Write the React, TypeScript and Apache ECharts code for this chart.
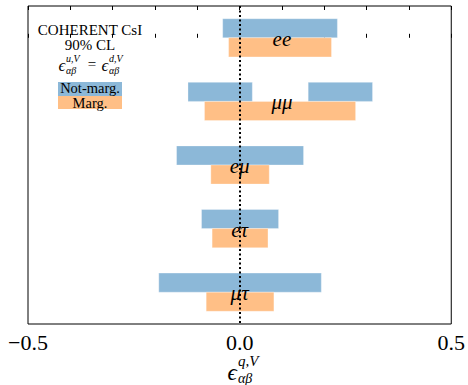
import React, { useEffect, useRef } from "react";
import * as echarts from "echarts";

const categories = ["ee", "μμ", "eμ", "eτ", "μτ"];
// Not-marginalized allowed intervals [lo, hi, categoryIndex]
const notMargIntervals = [
  [-0.04, 0.231, 0],
  [-0.122, 0.03, 1],
  [0.162, 0.314, 1],
  [-0.149, 0.151, 2],
  [-0.09, 0.092, 3],
  [-0.191, 0.193, 4],
];
// Marginalized allowed intervals [lo, hi, categoryIndex]
const margIntervals = [
  [-0.026, 0.217, 0],
  [-0.083, 0.274, 1],
  [-0.068, 0.07, 2],
  [-0.065, 0.067, 3],
  [-0.079, 0.081, 4],
];
const labelX = [0.1, 0.1, 0, 0, 0];
const xTicks = [-0.5, 0, 0.5];
const xTickLabels = ["−0.5", "0.0", "0.5"];

const BLUE = "#8cb8d8";
const ORANGE = "#ffbf86";
const FONT = "Liberation Serif";
const BAR_H = 0.3;

function makeBarRenderer(color: string, above: boolean) {
  return (params: any, api: any) => {
    const lo = api.value(0);
    const hi = api.value(1);
    const c = api.value(2);
    const y0 = above ? c - BAR_H : c;
    const p0 = api.coord([lo, y0]);
    const p1 = api.coord([hi, y0 + BAR_H]);
    return {
      type: "rect",
      shape: {
        x: p0[0],
        y: Math.min(p0[1], p1[1]),
        width: p1[0] - p0[0],
        height: Math.abs(p1[1] - p0[1]),
      },
      style: { fill: color, stroke: "rgba(255,255,255,0.6)", lineWidth: 0.5 },
    };
  };
}

function txt(x: number, y: number, text: string, size: number, italic: boolean, align = "center", lh?: number) {
  return {
    type: "text",
    x,
    y,
    style: {
      text,
      fontFamily: FONT,
      fontSize: size,
      fontStyle: italic ? "italic" : "normal",
      fill: "#000",
      align,
      verticalAlign: "middle",
      lineHeight: lh ?? size,
    },
  };
}

export default function App() {
  const ref = useRef<HTMLDivElement>(null);
  useEffect(() => {
    if (!ref.current) return;
    const chart = echarts.init(ref.current, null, { renderer: "svg" });
    const fmt = (v: number) => {
      for (let i = 0; i < xTicks.length; i++) {
        if (Math.abs(v - xTicks[i]) < 1e-9) return xTickLabels[i];
      }
      return "";
    };
    const axisCommon = {
      type: "value",
      min: -0.5,
      max: 0.5,
      interval: 0.5,
      axisLine: { show: false },
      splitLine: { show: false },
      axisTick: { show: true, inside: true, length: 4, lineStyle: { color: "#000", width: 1 } },
      minorTick: { show: true, splitNumber: 5, length: 4, lineStyle: { color: "#000", width: 1 } },
      minorSplitLine: { show: false },
    };
    chart.setOption({
      animation: false,
      backgroundColor: "#fff",
      grid: {
        left: 28,
        right: 13,
        top: 6,
        bottom: 61,
        show: true,
        borderColor: "#000",
        borderWidth: 1,
        backgroundColor: "transparent",
      },
      xAxis: [
        {
          ...axisCommon,
          position: "bottom",
          axisLabel: {
            show: true,
            formatter: fmt,
            fontFamily: FONT,
            fontSize: 22,
            lineHeight: 18,
            color: "#000",
            margin: 9,
          },
        },
        {
          ...axisCommon,
          position: "top",
          axisLabel: { show: false },
        },
      ],
      yAxis: {
        type: "value",
        min: -0.5,
        max: 4.5,
        inverse: true,
        show: false,
      },
      series: [
        {
          type: "custom",
          name: "Not-marg.",
          renderItem: makeBarRenderer(BLUE, true),
          data: notMargIntervals,
          encode: { x: [0, 1], y: 2 },
          z: 2,
        },
        {
          type: "custom",
          name: "Marg.",
          renderItem: makeBarRenderer(ORANGE, false),
          data: margIntervals,
          encode: { x: [0, 1], y: 2 },
          z: 2,
        },
        {
          type: "custom",
          name: "zero",
          renderItem: () => ({ type: "group", children: [] }),
          data: [[0, 0]],
          z: 3,
          markLine: {
            silent: true,
            symbol: ["none", "none"],
            label: { show: false },
            lineStyle: { color: "#000", width: 2, type: [2, 2.5] },
            data: [{ xAxis: 0 }],
          },
        },
        {
          type: "custom",
          name: "labels",
          renderItem: (params: any, api: any) => {
            const p = api.coord([api.value(0), api.value(1)]);
            return {
              type: "text",
              x: p[0],
              y: p[1] + 1,
              style: {
                text: categories[params.dataIndex],
                fontFamily: FONT,
                fontStyle: "italic",
                fontSize: 21,
                fill: "#000",
                align: "center",
                verticalAlign: "middle",
              },
            };
          },
          data: labelX.map((x, i) => [x, i]),
          z: 4,
        },
      ],
      graphic: [
        txt(90, 30, "COHERENT CsI", 15, false, "center", 11),
        txt(90, 45, "90% CL", 15, false, "center", 11),
        txt(62, 65, "ϵ", 17, true, "center", 10),
        txt(66, 58, "u,V", 10, true, "left", 7),
        txt(66, 70, "αβ", 10, true, "left", 7),
        txt(92, 64, "=", 15, false, "center", 10),
        txt(105, 65, "ϵ", 17, true, "center", 10),
        txt(109, 58, "d,V", 10, true, "left", 7),
        txt(109, 70, "αβ", 10, true, "left", 7),
        { type: "rect", shape: { x: 58, y: 82, width: 64, height: 14 }, style: { fill: BLUE } },
        { type: "rect", shape: { x: 58, y: 96, width: 64, height: 13 }, style: { fill: ORANGE } },
        txt(90, 88, "Not-marg.", 14.5, false, "center", 11),
        txt(90, 103, "Marg.", 14.5, false, "center", 11),
        txt(232, 372, "ϵ", 23, true, "center", 12),
        txt(238, 361, "q,V", 15, true, "left", 9),
        txt(238, 378, "αβ", 14, true, "left", 9),
      ],
    });
    return () => chart.dispose();
  }, []);
  return (
    <div
      ref={ref}
      style={{ position: "fixed", left: 0, top: 0, width: 468, height: 385 }}
    />
  );
}
